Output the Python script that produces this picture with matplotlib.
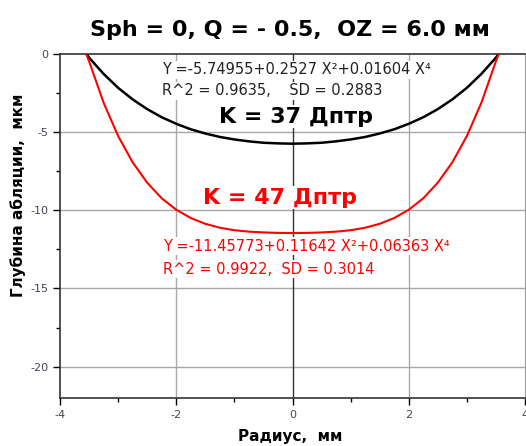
import numpy as np
import matplotlib
matplotlib.use("Agg")
import matplotlib.pyplot as plt
from matplotlib.ticker import MultipleLocator

# DejaVu is a bit wider than Arial, closer to the stretched look of the original
plt.rcParams['font.family'] = ['DejaVu Sans']
plt.rcParams['axes.unicode_minus'] = False

# values (radius, mm / ablation depth, um)
radius = [-3.55, -3.5, -3.25, -3.0, -2.75, -2.5, -2.25, -2.0, -1.75, -1.5, -1.25, -1.0,
          -0.75, -0.5, -0.25, 0.0, 0.25, 0.5, 0.75, 1.0, 1.25, 1.5, 1.75, 2.0,
          2.25, 2.5, 2.75, 3.0, 3.25, 3.5, 3.55]
depth_k37 = [0.0, -0.25, -1.29, -2.18, -2.92, -3.54, -4.06, -4.48, -4.83, -5.10, -5.32, -5.48,
             -5.60, -5.69, -5.73, -5.75, -5.73, -5.69, -5.60, -5.48, -5.32, -5.10, -4.83, -4.48,
             -4.06, -3.54, -2.92, -2.18, -1.29, -0.25, 0.0]
depth_k47 = [0.0, -0.48, -3.13, -5.26, -6.94, -8.24, -9.24, -9.97, -10.50, -10.87, -11.12, -11.28,
             -11.37, -11.42, -11.45, -11.46, -11.45, -11.42, -11.37, -11.28, -11.12, -10.87, -10.50, -9.97,
             -9.24, -8.24, -6.94, -5.26, -3.13, -0.48, 0.0]

eq_k37 = "Y =-5.74955+0.2527 X\u00b2+0.01604 X\u2074"
fit_k37 = "R^2 = 0.9635,    SD = 0.2883"
eq_k47 = "Y =-11.45773+0.11642 X\u00b2+0.06363 X\u2074"
fit_k47 = "R^2 = 0.9922,  SD = 0.3014"

fig = plt.figure(figsize=(5.26, 4.46), dpi=100)
ax = fig.add_axes([60/526, 1-398/446, 465/526, (398-53.7)/446])

ax.set_xlim(-4, 4)
ax.set_ylim(-22, 0)
ax.xaxis.set_major_locator(MultipleLocator(2))
ax.xaxis.set_minor_locator(MultipleLocator(1))
ax.yaxis.set_major_locator(MultipleLocator(5))
ax.yaxis.set_minor_locator(MultipleLocator(2.5))

for g in [-20, -15, -10, -5]:
    ax.axhline(g, color='#a8a8a8', lw=1, zorder=0)
for g in [-2, 2]:
    ax.axvline(g, color='#a8a8a8', lw=1, zorder=0)
ax.axvline(0, color='#333333', lw=1, zorder=0)

ax.plot(radius, depth_k37, color='black', lw=1.8, zorder=3)
ax.plot(radius, depth_k47, color='red', lw=1.5, zorder=3)

box = dict(facecolor='white', edgecolor='none', pad=1)
ax.text(-2.25, -1.04, eq_k37, fontsize=10.5, color='#222222', ha='left', va='center', bbox=box, zorder=2)
ax.text(-2.25, -2.38, fit_k37, fontsize=10.5, color='#222222', ha='left', va='center', bbox=box, zorder=2)
ax.text(0.06, -4.03, "K = 37 Дптр", fontsize=16, fontweight='bold', color='black',
        ha='center', va='center', bbox=box, zorder=2)
ax.text(-0.22, -9.19, "K = 47 Дптр", fontsize=16, fontweight='bold', color='red',
        ha='center', va='center', bbox=box, zorder=2)
ax.text(-2.23, -12.31, eq_k47, fontsize=10.5, color='red', ha='left', va='center', bbox=box, zorder=2)
ax.text(-2.23, -13.78, fit_k47, fontsize=10.5, color='red', ha='left', va='center', bbox=box, zorder=2)

ax.tick_params(which='major', direction='out', length=5, width=1, labelsize=8, labelcolor='#444455')
ax.tick_params(which='minor', direction='out', length=3, width=1)
ax.tick_params(top=False, right=False)
for s in ['left', 'bottom', 'top']:
    ax.spines[s].set_color('#333333')
    ax.spines[s].set_linewidth(1.2)
ax.spines['right'].set_color('#999999')

fig.text(290/526, 1-30/446, "Sph = 0, Q = - 0.5,  OZ = 6.0 мм", fontsize=16, fontweight='bold',
         ha='center', va='center')
fig.text(290/526, 1-437/446, "Радиус,  мм", fontsize=11, fontweight='bold', ha='center', va='center')
fig.text(18/526, 1-195/446, "Глубина абляции,  мкм", fontsize=11, fontweight='bold',
         rotation=90, ha='center', va='center')

fig.savefig("out.png", dpi=100)
